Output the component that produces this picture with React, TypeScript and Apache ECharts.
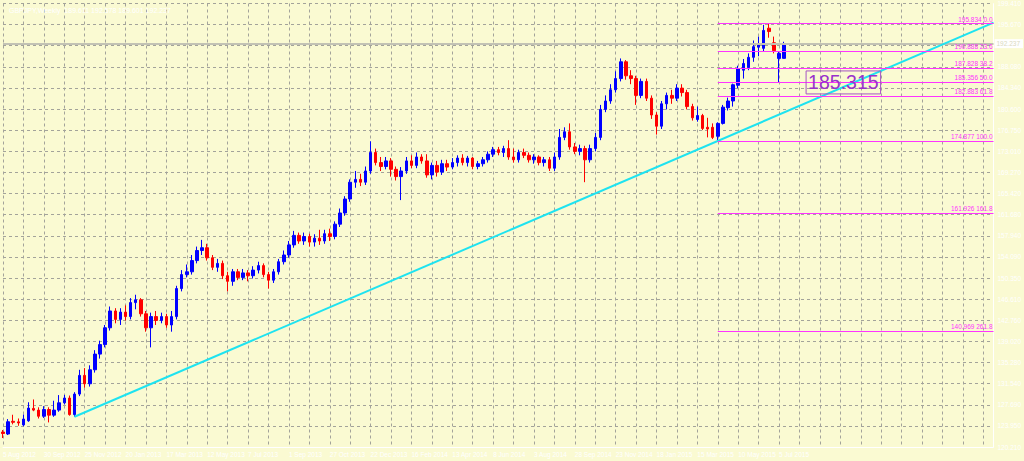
import { useEffect, useRef } from "react";
import * as echarts from "echarts";

// ---------- data ----------
const chartTitle = "GBPJPY,Weekly  189.611 192.578 189.601 192.237";
const firstWeekUTC = Date.UTC(2012, 7, 5); // 5 Aug 2012
const slotCount = 195; // weekly slots shown on the time axis (bars + empty space to the right)
const monthNames = ["Jan", "Feb", "Mar", "Apr", "May", "Jun", "Jul", "Aug", "Sep", "Oct", "Nov", "Dec"];

// weekly bars: [open, high, low, close]
const weeklyOHLC: number[][] = [
  [122.88, 123.24, 121.81, 122.61], [122.53, 125.2, 122.35, 124.72], [124.8, 125.97, 124.26, 124.62], [124.7, 125.3, 124.0, 124.5],
  [124.15, 126.0, 123.9, 125.2], [124.9, 128.2, 124.7, 127.16], [127.1, 128.7, 126.6, 126.8], [126.8, 127.3, 125.3, 125.7],
  [125.7, 127.5, 125.4, 126.9], [126.9, 127.3, 124.6, 125.9], [125.9, 128.47, 125.6, 126.8], [126.8, 129.48, 126.5, 128.1],
  [128.1, 129.5, 127.8, 128.95], [128.95, 129.4, 125.8, 126.0], [126.0, 130.0, 125.61, 129.66], [129.66, 134.0, 129.3, 133.0],
  [133.0, 134.3, 130.8, 131.5], [131.5, 134.8, 131.0, 134.0], [134.0, 137.5, 133.5, 136.8], [136.8, 139.2, 136.0, 138.5],
  [138.5, 142.0, 138.0, 141.5], [141.5, 145.3, 141.0, 144.5], [144.5, 145.0, 142.3, 143.0], [143.0, 145.0, 142.0, 144.3],
  [144.3, 145.5, 142.8, 143.5], [143.5, 146.8, 143.0, 146.0], [146.0, 147.4, 144.8, 146.5], [146.5, 146.8, 143.5, 144.0],
  [144.0, 144.5, 140.8, 141.5], [141.5, 144.2, 138.0, 143.5], [143.5, 144.5, 142.0, 142.8], [142.8, 144.2, 142.3, 143.5],
  [143.5, 144.0, 141.5, 142.0], [142.0, 144.5, 140.8, 143.5], [143.5, 149.0, 143.0, 148.5], [148.5, 151.8, 148.0, 151.0],
  [151.0, 152.8, 150.5, 151.5], [151.5, 154.5, 151.0, 153.5], [153.5, 156.0, 153.0, 155.3], [155.3, 157.2, 154.5, 155.8],
  [155.8, 156.5, 153.5, 154.0], [154.0, 154.5, 151.8, 152.3], [152.3, 153.8, 151.5, 153.0], [153.0, 153.5, 150.2, 150.8],
  [150.8, 151.5, 148.0, 149.8], [149.8, 152.0, 149.0, 151.5], [151.5, 152.0, 150.0, 150.5], [150.5, 152.0, 150.0, 151.3],
  [151.3, 151.8, 149.8, 150.8], [150.8, 152.5, 150.3, 151.8], [151.8, 153.3, 151.2, 152.6], [152.6, 153.0, 150.5, 151.0],
  [151.0, 151.5, 148.5, 150.0], [150.0, 152.0, 149.5, 151.5], [151.5, 153.8, 151.0, 153.3], [153.3, 155.3, 152.8, 154.5],
  [154.5, 157.0, 154.0, 156.3], [156.3, 158.8, 155.8, 158.0], [158.0, 158.5, 156.5, 157.0], [157.0, 158.5, 156.3, 157.8],
  [157.8, 158.3, 156.0, 156.8], [156.8, 158.2, 156.0, 157.5], [157.5, 159.0, 156.3, 157.0], [157.0, 159.0, 156.5, 158.3],
  [158.3, 159.2, 157.0, 157.8], [157.8, 160.5, 157.3, 160.0], [160.0, 162.8, 159.5, 162.0], [162.0, 165.0, 161.5, 164.5],
  [164.5, 168.0, 164.0, 167.5], [167.5, 169.5, 166.5, 168.0], [168.0, 169.0, 166.8, 167.5], [167.5, 170.3, 167.0, 169.5],
  [169.5, 174.8, 169.0, 172.8], [172.8, 173.5, 170.5, 171.0], [171.0, 172.0, 169.5, 170.3], [170.3, 172.0, 169.8, 171.3],
  [171.3, 171.8, 168.5, 169.8], [169.8, 170.3, 167.8, 168.5], [168.5, 170.2, 164.3, 169.5], [169.5, 172.0, 169.0, 171.3],
  [171.3, 172.3, 170.0, 170.5], [170.5, 172.8, 170.0, 172.0], [172.0, 172.5, 170.8, 171.3], [171.3, 172.5, 168.3, 168.8],
  [168.8, 171.0, 168.0, 170.5], [170.5, 171.3, 168.5, 169.3], [169.3, 171.5, 168.8, 170.8], [170.8, 171.5, 169.5, 170.2],
  [170.2, 171.8, 169.8, 171.0], [171.0, 172.3, 170.3, 171.8], [171.8, 172.5, 170.5, 171.0], [171.0, 172.2, 170.3, 171.8],
  [171.8, 172.0, 169.8, 170.3], [170.3, 171.3, 169.8, 170.8], [170.8, 172.0, 170.3, 171.5], [171.5, 173.0, 171.0, 172.5],
  [172.5, 173.8, 172.0, 173.3], [173.3, 173.8, 172.3, 172.8], [172.8, 174.0, 172.0, 173.5], [173.5, 175.0, 171.5, 172.0],
  [172.0, 173.5, 171.0, 171.5], [171.5, 173.3, 171.0, 172.8], [172.8, 173.5, 171.8, 172.3], [172.3, 172.8, 171.0, 171.5],
  [171.5, 172.5, 170.8, 172.0], [172.0, 172.3, 170.5, 171.0], [171.0, 172.0, 170.3, 171.5], [171.5, 172.0, 169.5, 170.0],
  [170.0, 172.8, 169.5, 172.0], [172.0, 177.0, 171.5, 175.5], [175.5, 177.3, 175.0, 176.5], [176.5, 178.0, 173.3, 173.8],
  [173.8, 174.5, 172.5, 173.0], [173.0, 174.2, 172.3, 173.5], [173.5, 174.0, 167.5, 171.5], [171.5, 174.2, 171.0, 173.5],
  [173.5, 176.3, 173.0, 175.5], [175.5, 181.3, 175.0, 180.5], [180.5, 183.0, 180.0, 182.0], [182.0, 185.0, 181.5, 184.0],
  [184.0, 187.3, 183.5, 186.0], [186.0, 189.6, 185.5, 189.0], [189.0, 189.3, 185.8, 186.5], [186.5, 187.5, 185.0, 186.0],
  [186.0, 186.5, 181.3, 183.0], [183.0, 186.0, 182.5, 185.5], [185.5, 186.0, 182.0, 182.5], [182.5, 183.0, 178.8, 179.5],
  [179.5, 180.0, 176.0, 177.5], [177.5, 182.0, 177.0, 181.5], [181.5, 183.5, 180.5, 183.0], [183.0, 184.0, 181.5, 182.5],
  [182.5, 185.0, 182.0, 184.3], [184.3, 185.0, 182.8, 183.5], [183.5, 184.0, 180.5, 181.0], [181.0, 181.5, 178.5, 179.0],
  [178.7, 181.0, 178.3, 179.4], [179.4, 179.7, 176.8, 177.1], [177.3, 179.0, 175.5, 177.0], [177.3, 178.0, 175.2, 175.5],
  [175.7, 178.2, 174.877, 178.0], [178.0, 181.3, 177.8, 180.9], [180.8, 182.6, 180.3, 182.0], [182.0, 185.1, 181.0, 184.9],
  [184.8, 188.3, 184.3, 187.8], [187.5, 189.5, 186.0, 188.7], [188.0, 190.5, 187.5, 189.8], [189.8, 192.8, 189.0, 191.7],
  [191.6, 193.5, 190.0, 192.0], [191.4, 195.6, 190.8, 194.6], [195.0, 195.834, 193.3, 194.4], [192.4, 193.5, 190.5, 191.0],
  [189.6, 190.9, 185.315, 190.5], [189.611, 192.578, 189.601, 192.237],
];

// price scale tick labels, bottom to top (the 191.930 slot is covered by the bid label)
const priceTickLabels = [
  "120.210", "123.950", "127.690", "131.540", "135.280", "139.020", "142.760", "146.610", "150.350", "154.090", "157.940",
  "161.680", "165.420", "169.270", "173.010", "176.750", "180.600", "184.340", "188.080", "", "195.670", "199.410",
];
const priceMin = 120.21;
const priceMax = 199.41;

// Fibonacci retracement levels and their ratios
const fibLevels = [195.834, 190.888, 187.828, 185.356, 182.883, 174.877, 161.926, 140.969];
const fibRatios = ["0.0", "23.6", "38.2", "50.0", "61.8", "100.0", "161.8", "261.8"];
const fibStartBar = 140;

// trend line anchors [bar index, price]
const trendFrom = [14, 125.61];
const trendThrough = [140, 174.877];

const bidPrice = 192.237;
const lowNote = { bar: 157, price: 185.315, text: "185.315" };

// ---------- styles ----------
const BG = "#fafad2";
const GRID = "#a3a39a";
const BULL = "#0000ff";
const BEAR = "#ff0000";
const FIB = "#ff33ff";
const TREND = "#1ee3f0";
const FONT = "Liberation Sans, Arial, sans-serif";

const categories = Array.from({ length: slotCount }, (_, i) => {
  const d = new Date(firstWeekUTC + i * 7 * 86400000);
  return `${d.getUTCDate()} ${monthNames[d.getUTCMonth()]} ${d.getUTCFullYear()}`;
});

export default function App() {
  const ref = useRef<HTMLDivElement>(null);

  useEffect(() => {
    if (!ref.current) return;
    const chart = echarts.init(ref.current, undefined, { renderer: "svg" });
    const lastSlot = slotCount - 1;
    const trendEndPrice =
      trendFrom[1] + ((trendThrough[1] - trendFrom[1]) * (lastSlot - trendFrom[0])) / (trendThrough[0] - trendFrom[0]);

    const fibLines = fibLevels.map((lvl, i) => [
      {
        coord: [fibStartBar, lvl],
        lineStyle: { color: FIB, width: 1, type: "solid" },
        label: {
          show: true,
          position: "insideEndTop",
          formatter: `${lvl.toFixed(3)} ${fibRatios[i]}`,
          color: FIB,
          fontSize: 6.5,
          fontFamily: FONT,
          distance: [1, 1],
        },
      },
      { coord: [lastSlot, lvl] },
    ]);

    chart.setOption({
      animation: false,
      backgroundColor: BG,
      title: {
        text: chartTitle,
        left: 4,
        top: 2,
        textStyle: { color: "#ffffff", fontSize: 7, fontWeight: "normal", fontFamily: FONT },
      },
      grid: { left: 2.5, right: 26.3, top: 3, bottom: 14 },
      xAxis: {
        type: "category",
        data: categories,
        boundaryGap: false,
        axisLine: { show: true, lineStyle: { color: "#ffffff", width: 1 } },
        axisTick: { show: false },
        axisLabel: {
          interval: 7,
          align: "left",
          color: "#ffffff",
          fontSize: 6.5,
          fontFamily: FONT,
          margin: 4,
          formatter: (v: string, i: number) => (i < weeklyOHLC.length ? v : ""),
        },
        splitLine: { show: true, interval: 3, lineStyle: { color: GRID, type: [3, 3], width: 1 } },
      },
      yAxis: [
        { type: "value", min: priceMin, max: priceMax, show: false },
        {
          type: "value",
          min: 0,
          max: priceTickLabels.length - 1,
          interval: 1,
          position: "right",
          axisLine: { show: true, lineStyle: { color: "#ffffff", width: 1 } },
          axisTick: { show: false },
          axisLabel: {
            color: "#ffffff",
            fontSize: 6.5,
            fontFamily: FONT,
            margin: 4,
            formatter: (v: number) => priceTickLabels[Math.round(v)] ?? "",
          },
          splitLine: { show: true, lineStyle: { color: GRID, type: [3, 3], width: 1 } },
        },
      ],
      series: [
        {
          type: "candlestick",
          xAxisIndex: 0,
          yAxisIndex: 0,
          barWidth: 3,
          clip: false,
          data: weeklyOHLC.map(([o, h, l, c]) => [o, c, l, h]),
          itemStyle: { color: BULL, color0: BEAR, borderColor: BULL, borderColor0: BEAR, borderWidth: 1 },
          markLine: {
            silent: true,
            symbol: ["none", "none"],
            label: { show: false },
            data: [
              {
                yAxis: bidPrice,
                lineStyle: { color: "#c2c2b4", width: 2, type: "solid" },
                label: {
                  show: true,
                  position: "end",
                  distance: 1,
                  formatter: bidPrice.toFixed(3),
                  color: "#d9d9c0",
                  backgroundColor: "#ffffff",
                  padding: [1, 3, 1, 2],
                  fontSize: 6.5,
                  fontFamily: FONT,
                },
              },
              [
                { coord: trendFrom, lineStyle: { color: TREND, width: 2, type: "solid" }, label: { show: false } },
                { coord: [lastSlot, trendEndPrice] },
              ],
              ...fibLines,
            ],
          },
          markPoint: {
            silent: true,
            symbol: "rect",
            symbolSize: 1,
            itemStyle: { color: "rgba(0,0,0,0)" },
            data: [
              {
                coord: [lowNote.bar, lowNote.price],
                label: {
                  show: true,
                  position: "right",
                  distance: 1,
                  formatter: lowNote.text,
                  color: "#9932cc",
                  fontSize: 19.5,
                  fontFamily: FONT,
                  borderColor: "#a555c5",
                  borderWidth: 1,
                  padding: [2, 2, 1, 2],
                },
              },
            ],
          },
        },
      ],
    });
    return () => chart.dispose();
  }, []);

  return (
    <div
      ref={ref}
      style={{ position: "fixed", left: 0, top: 0, width: 1024, height: 461, background: BG }}
    />
  );
}
